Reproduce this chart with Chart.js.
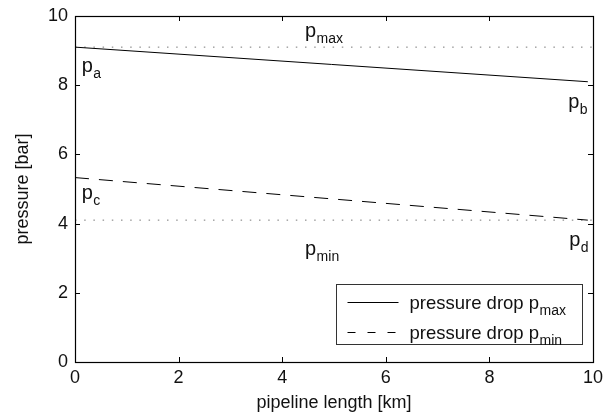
<!DOCTYPE html>
<html>
<head>
<meta charset="utf-8">
<script src="https://cdn.jsdelivr.net/npm/chart.js@4.4.0/dist/chart.umd.min.js"></script>
<style>
  html, body { margin: 0; padding: 0; background: #fff; }
  canvas { display: block; }
</style>
</head>
<body>
<canvas id="c" width="603" height="414"></canvas>
<script>
// ---- data ----
const lengthKm      = [0, 9.9];          // pipeline positions of the drop lines
const dropFromPmax  = [9.1, 8.1];        // pressure drop starting at p_max [bar]
const dropFromPmin  = [5.33, 4.1];       // pressure drop starting at p_min [bar]
const limitKm       = [0, 10];           // extent of the limit lines
const pMaxLimit     = [9.1, 9.1];        // p_max [bar]
const pMinLimit     = [4.1, 4.1];        // p_min [bar]
const xTickValues   = [0, 2, 4, 6, 8, 10];
const yTickValues   = [0, 2, 4, 6, 8, 10];
const seriesLabels  = ['pressure drop p', 'pressure drop p'];
const seriesSubs    = ['max', 'min'];

// point labels (text, subscript, anchor in data units)
const pointLabels = [
  { t: 'p', s: 'max', x: 4.44, y: 9.39 },
  { t: 'p', s: 'a',   x: 0.13, y: 8.38 },
  { t: 'p', s: 'b',   x: 9.52, y: 7.33 },
  { t: 'p', s: 'c',   x: 0.13, y: 4.70 },
  { t: 'p', s: 'min', x: 4.44, y: 3.08 },
  { t: 'p', s: 'd',   x: 9.54, y: 3.34 }
];

const FONT = "'Liberation Sans', Arial, Helvetica, sans-serif";
const toXY = (xs, ys) => xs.map((v, i) => ({ x: v, y: ys[i] }));

const framePlugin = {
  id: 'frame',
  afterDatasetsDraw(chart) {
    const { ctx, chartArea: a, scales: { x, y } } = chart;
    ctx.save();
    // point labels
    ctx.fillStyle = '#111';
    ctx.textBaseline = 'alphabetic';
    ctx.textAlign = 'left';
    pointLabels.forEach(l => {
      const px = x.getPixelForValue(l.x), py = y.getPixelForValue(l.y);
      ctx.font = '20px ' + FONT;
      ctx.fillText(l.t, px, py);
      const w = ctx.measureText(l.t).width;
      ctx.font = '14px ' + FONT;
      ctx.fillText(l.s, px + w + 0.5, py + 6);
    });

    // legend box
    const bw = 246, bh = 60;
    const bx = Math.round(a.right - 11 - bw) + 0.5;
    const by = Math.round(a.bottom - 18 - bh) + 0.5;
    ctx.fillStyle = '#fff';
    ctx.fillRect(bx, by, bw, bh);
    ctx.strokeStyle = '#333';
    ctx.lineWidth = 1;
    ctx.strokeRect(bx, by, bw, bh);
    [0, 1].forEach(i => {
      const ly = Math.round(by + 17 + i * 30) + 0.5;
      ctx.save();
      ctx.strokeStyle = '#000';
      ctx.lineWidth = 1;
      ctx.setLineDash(i === 0 ? [] : [8, 12]);
      ctx.beginPath();
      ctx.moveTo(bx + 11, ly);
      ctx.lineTo(bx + 62, ly);
      ctx.stroke();
      ctx.restore();
      ctx.fillStyle = '#111';
      ctx.font = '18.5px ' + FONT;
      const tx = bx + 73;
      ctx.fillText(seriesLabels[i], tx, ly + 6);
      const w = ctx.measureText(seriesLabels[i]).width;
      ctx.font = '14px ' + FONT;
      ctx.fillText(seriesSubs[i], tx + w + 0.5, ly + 12);
    });

    // frame + inward ticks on all sides
    ctx.strokeStyle = '#000';
    ctx.lineWidth = 1;
    ctx.beginPath();
    x.ticks.forEach(t => {
      const px = Math.round(x.getPixelForValue(t.value)) + 0.5;
      ctx.moveTo(px, a.bottom); ctx.lineTo(px, a.bottom - 5);
      ctx.moveTo(px, a.top);    ctx.lineTo(px, a.top + 5);
    });
    y.ticks.forEach(t => {
      const py = Math.round(y.getPixelForValue(t.value)) + 0.5;
      ctx.moveTo(a.left, py);  ctx.lineTo(a.left + 5, py);
      ctx.moveTo(a.right, py); ctx.lineTo(a.right - 5, py);
    });
    ctx.stroke();
    ctx.lineWidth = 1.2;
    ctx.strokeRect(Math.round(a.left) + 0.5, Math.round(a.top) + 0.5,
                   Math.round(a.width), Math.round(a.height));
    ctx.restore();
  }
};

new Chart(document.getElementById('c'), {
  type: 'line',
  data: {
    datasets: [
      { label: 'pressure drop pmax', data: toXY(lengthKm, dropFromPmax),
        borderColor: '#000', borderWidth: 1, pointRadius: 0, fill: false },
      { label: 'pressure drop pmin', data: toXY(lengthKm, dropFromPmin),
        borderColor: '#000', borderWidth: 1, borderDash: [14, 10], pointRadius: 0, fill: false },
      { label: 'pmax', data: toXY(limitKm, pMaxLimit),
        borderColor: '#777', borderWidth: 1, borderDash: [1.5, 7.7], pointRadius: 0, fill: false },
      { label: 'pmin', data: toXY(limitKm, pMinLimit),
        borderColor: '#777', borderWidth: 1, borderDash: [1.5, 7.7], pointRadius: 0, fill: false }
    ]
  },
  options: {
    responsive: false,
    animation: false,
    devicePixelRatio: 1,
    layout: { padding: { top: 16, right: 10, left: 0, bottom: 0 } },
    plugins: { legend: { display: false }, tooltip: { enabled: false } },
    scales: {
      x: {
        type: 'linear', min: 0, max: 10,
        afterBuildTicks: s => { s.ticks = xTickValues.map(v => ({ value: v })); },
        afterFit: s => { s.height = 52; s.paddingLeft = 0; s.paddingRight = 0; },
        grid: { display: false, drawTicks: false },
        border: { display: false },
        ticks: { padding: 5, color: '#111', font: { family: FONT, size: 18 } },
        title: { display: true, text: 'pipeline length [km]', color: '#111',
                 font: { family: FONT, size: 18 }, padding: { top: 0, bottom: 0 } }
      },
      y: {
        type: 'linear', min: 0, max: 10,
        afterBuildTicks: s => { s.ticks = yTickValues.map(v => ({ value: v })); },
        afterFit: s => { s.width = 75; s.paddingTop = 0; s.paddingBottom = 0; },
        grid: { display: false, drawTicks: false },
        border: { display: false },
        ticks: { padding: 7, color: '#111', font: { family: FONT, size: 18 } },
        title: { display: true, text: 'pressure [bar]', color: '#111',
                 font: { family: FONT, size: 18 }, padding: { top: 12, bottom: 0 } }
      }
    }
  },
  plugins: [framePlugin]
});
</script>
</body>
</html>
